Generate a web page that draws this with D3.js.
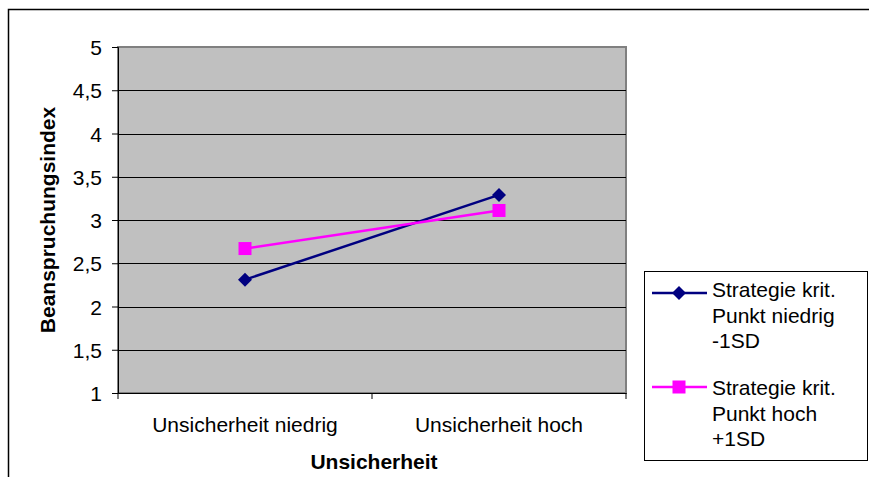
<!DOCTYPE html>
<html>
<head>
<meta charset="utf-8">
<script src="https://cdn.jsdelivr.net/npm/d3@7"></script>
<style>
body{margin:0;background:#fff;}
text{font-family:Arial,"Liberation Sans",sans-serif;}
</style>
</head>
<body>
<svg id="chart" width="869" height="477"></svg>
<script>
const categories = ["Unsicherheit niedrig", "Unsicherheit hoch"];
const seriesNames = [["Strategie krit.", "Punkt niedrig", "-1SD"], ["Strategie krit.", "Punkt hoch", "+1SD"]];
const lowValues = [2.31, 3.29];
const highValues = [2.67, 3.11];
const yTicks = [1, 1.5, 2, 2.5, 3, 3.5, 4, 4.5, 5];
const yTickLabels = ["1", "1,5", "2", "2,5", "3", "3,5", "4", "4,5", "5"];
const colors = ["#000080", "#FF00FF"];

const svg = d3.select("#chart");
const fs = 21;

// outer chart border
svg.append("rect").attr("x", 8.5).attr("y", 9.5).attr("width", 900).attr("height", 500)
  .attr("fill", "#fff").attr("stroke", "#000").attr("stroke-width", 1.5);

const L = 118, R = 626, T = 47, B = 393;
const x = d3.scaleBand().domain(categories).range([L, R]);
const y = d3.scaleLinear().domain([1, 5]).range([B, T]);

// plot area
svg.append("rect").attr("x", L).attr("y", T).attr("width", R - L).attr("height", B - T)
  .attr("fill", "#C0C0C0").attr("stroke", "#808080").attr("stroke-width", 2);

// gridlines
svg.append("g").selectAll("line").data(yTicks.filter(d => d > 1 && d < 5)).join("line")
  .attr("x1", L).attr("x2", R).attr("y1", d => Math.round(y(d)) + 0.5).attr("y2", d => Math.round(y(d)) + 0.5)
  .attr("stroke", "#000").attr("stroke-width", 1);

// y axis
const yAxis = d3.axisLeft(y).tickValues(yTicks).tickSize(6).tickPadding(10)
  .tickFormat((d, i) => yTickLabels[i]);
const gy = svg.append("g").attr("transform", `translate(${L},0)`).call(yAxis);
gy.select(".domain").attr("stroke", "#000");
gy.selectAll(".tick line").attr("stroke", "#000");
gy.selectAll(".tick text").attr("font-size", fs).attr("font-family", "Arial, 'Liberation Sans', sans-serif").attr("fill", "#000").attr("dy", "0.36em");

// x axis
const gx = svg.append("g").attr("transform", `translate(0,${B})`)
  .call(d3.axisBottom(x).tickSize(0).tickPadding(24));
gx.select(".domain").attr("stroke", "#000");
gx.selectAll(".tick text").attr("font-size", fs).attr("font-family", "Arial, 'Liberation Sans', sans-serif").attr("fill", "#000");
// boundary ticks
const bounds = [L, L + x.step(), R];
svg.append("g").selectAll("line").data(bounds).join("line")
  .attr("x1", d => d).attr("x2", d => d).attr("y1", B).attr("y2", B + 6).attr("stroke", "#000");

// axis titles
svg.append("text").attr("transform", `translate(55,${(T + B) / 2}) rotate(-90)`)
  .attr("text-anchor", "middle").attr("font-size", fs).attr("font-weight", "bold").text("Beanspruchungsindex");
svg.append("text").attr("x", (L + R) / 2 + 2).attr("y", 469)
  .attr("text-anchor", "middle").attr("font-size", fs).attr("font-weight", "bold").text("Unsicherheit");

// series
const series = [lowValues, highValues];
const cx = c => x(c) + x.bandwidth() / 2;
const line = d3.line().x((d, i) => cx(categories[i])).y(d => y(d));
series.forEach((vals, si) => {
  svg.append("path").datum(vals).attr("d", line).attr("fill", "none")
    .attr("stroke", colors[si]).attr("stroke-width", 2.5);
});
function marker(g, si, px, py) {
  if (si === 0) {
    g.append("path").attr("d", d3.symbol(d3.symbolDiamond2, 125)()).attr("transform", `translate(${px},${py})`)
      .attr("fill", colors[0]);
  } else {
    g.append("rect").attr("x", px - 6.5).attr("y", py - 6.5).attr("width", 13).attr("height", 13).attr("fill", colors[1]);
  }
}
series.forEach((vals, si) => {
  const g = svg.append("g");
  vals.forEach((v, i) => marker(g, si, cx(categories[i]), y(v)));
});

// legend
svg.append("rect").attr("x", 644.5).attr("y", 271.5).attr("width", 223).attr("height", 189)
  .attr("fill", "#fff").attr("stroke", "#000").attr("stroke-width", 1);
const legY = [293, 387];
const legBase = [297, 395];
seriesNames.forEach((lines, si) => {
  const g = svg.append("g");
  g.append("line").attr("x1", 652).attr("x2", 707).attr("y1", legY[si]).attr("y2", legY[si])
    .attr("stroke", colors[si]).attr("stroke-width", 2.5);
  marker(g, si, 679, legY[si]);
  const t = g.append("text").attr("x", 712).attr("y", legBase[si]).attr("font-size", fs).attr("fill", "#000");
  lines.forEach((s, k) => t.append("tspan").attr("x", 712).attr("dy", k === 0 ? 0 : 25.5).text(s));
});
</script>
</body>
</html>
